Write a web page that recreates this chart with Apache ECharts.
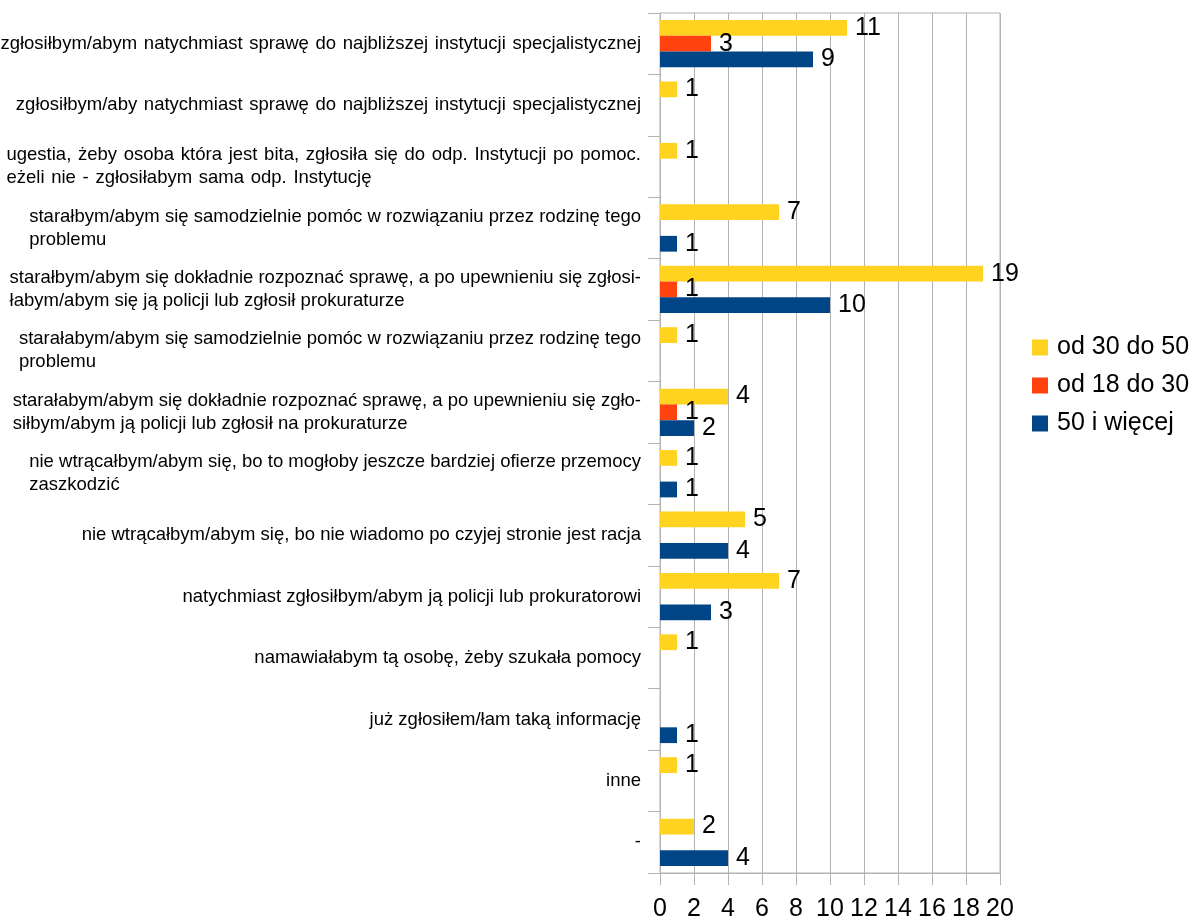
<!DOCTYPE html>
<html>
<head>
<meta charset="utf-8">
<script src="https://cdn.jsdelivr.net/npm/echarts@6/dist/echarts.min.js"></script>
<style>
html,body{margin:0;padding:0;background:#fff;}
#c{width:1194px;height:919px;}
</style>
</head>
<body>
<div id="c"></div>
<script>
const categories = [
  "zgłosiłbym/abym natychmiast sprawę do najbliższej instytucji specjalistycznej",
  "zgłosiłbym/aby natychmiast sprawę do najbliższej instytucji specjalistycznej",
  "ugestia, żeby osoba która jest bita, zgłosiła się do odp. Instytucji po pomoc.\neżeli nie - zgłosiłabym sama odp. Instytucję",
  "starałbym/abym się samodzielnie pomóc w rozwiązaniu przez rodzinę tego\nproblemu",
  "starałbym/abym się dokładnie rozpoznać sprawę, a po upewnieniu się zgłosi-\nłabym/abym się ją policji lub zgłosił prokuraturze",
  "starałabym/abym się samodzielnie pomóc w rozwiązaniu przez rodzinę tego\nproblemu",
  "starałabym/abym się dokładnie rozpoznać sprawę, a po upewnieniu się zgło-\nsiłbym/abym ją policji lub zgłosił na prokuraturze",
  "nie wtrącałbym/abym się, bo to mogłoby jeszcze bardziej ofierze przemocy\nzaszkodzić",
  "nie wtrącałbym/abym się, bo nie wiadomo po czyjej stronie jest racja",
  "natychmiast zgłosiłbym/abym ją policji lub prokuratorowi",
  "namawiałabym tą osobę, żeby szukała pomocy",
  "już zgłosiłem/łam taką informację",
  "inne",
  "-"
];
const seriesNames = ["od 30 do 50", "od 18 do 30", "50 i więcej"];
const age30to50 = [11, 1, 1, 7, 19, 1, 4, 1, 5, 7, 1, null, 1, 2];
const age18to30 = [3, null, null, null, 1, null, 1, null, null, null, null, null, null, null];
const age50plus = [9, null, null, 1, 10, null, 2, 1, 4, 3, null, 1, null, 4];
const xTicks = { min: 0, max: 20, interval: 2 };

const colors = ["#FFD320", "#FF420E", "#004586"];
const FONT = "Liberation Sans";
const gridColor = "#b3b3b3";
// these labels are set a little looser in the reference
const looseLabels = [0, 1, 2];

const chart = echarts.init(document.getElementById('c'), null, { renderer: 'canvas' });

function mkSeries(name, data, color) {
  return {
    name: name,
    type: 'bar',
    data: data,
    itemStyle: { color: color },
    barGap: '0%',
    barCategoryGap: '23%',
    label: {
      show: true,
      position: 'right',
      distance: 8,
      color: '#000',
      fontFamily: FONT,
      fontSize: 25,
      formatter: p => (p.value == null ? '' : String(p.value))
    }
  };
}

chart.setOption({
  animation: false,
  backgroundColor: '#fff',
  textStyle: { fontFamily: FONT },
  grid: { left: 660, right: 194, top: 13, bottom: 46, containLabel: false,
          outerBoundsMode: 'none',
          show: true, borderColor: gridColor, borderWidth: 1, backgroundColor: 'transparent' },
  legend: {
    orient: 'vertical',
    left: 1032,
    top: 335,
    padding: 0,
    itemWidth: 16,
    itemHeight: 16,
    itemGap: 13,
    icon: 'rect',
    data: seriesNames,
    textStyle: { fontFamily: FONT, fontSize: 25, color: '#000', padding: [0, 0, 0, 4] }
  },
  xAxis: {
    type: 'value',
    min: xTicks.min,
    max: xTicks.max,
    interval: xTicks.interval,
    axisLine: { show: true, lineStyle: { color: gridColor, width: 1 } },
    axisTick: { show: true, length: 12, lineStyle: { color: gridColor } },
    splitLine: { show: true, lineStyle: { color: gridColor, width: 1 } },
    axisLabel: { color: '#000', fontFamily: FONT, fontSize: 25, margin: 24 }
  },
  yAxis: {
    type: 'category',
    inverse: true,
    data: categories,
    axisLine: { show: true, lineStyle: { color: gridColor, width: 1 } },
    axisTick: { show: true, length: 12, interval: 0, lineStyle: { color: gridColor } },
    splitLine: { show: false },
    axisLabel: {
      interval: 0,
      margin: 19,
      color: '#000',
      fontFamily: FONT,
      fontSize: 18.5,
      lineHeight: 23,
      formatter: (v, i) => {
        const txt = looseLabels.indexOf(i) >= 0 ? v.split(' ').join(' \u200A') : v;
        return txt.split('\n').map(s => '{l|' + s + '}').join('\n');
      },
      rich: { l: { fontFamily: FONT, fontSize: 18.5, lineHeight: 23, color: '#000', align: 'left' } }
    }
  },
  series: [
    mkSeries(seriesNames[0], age30to50, colors[0]),
    mkSeries(seriesNames[1], age18to30, colors[1]),
    mkSeries(seriesNames[2], age50plus, colors[2])
  ]
});
</script>
</body>
</html>
